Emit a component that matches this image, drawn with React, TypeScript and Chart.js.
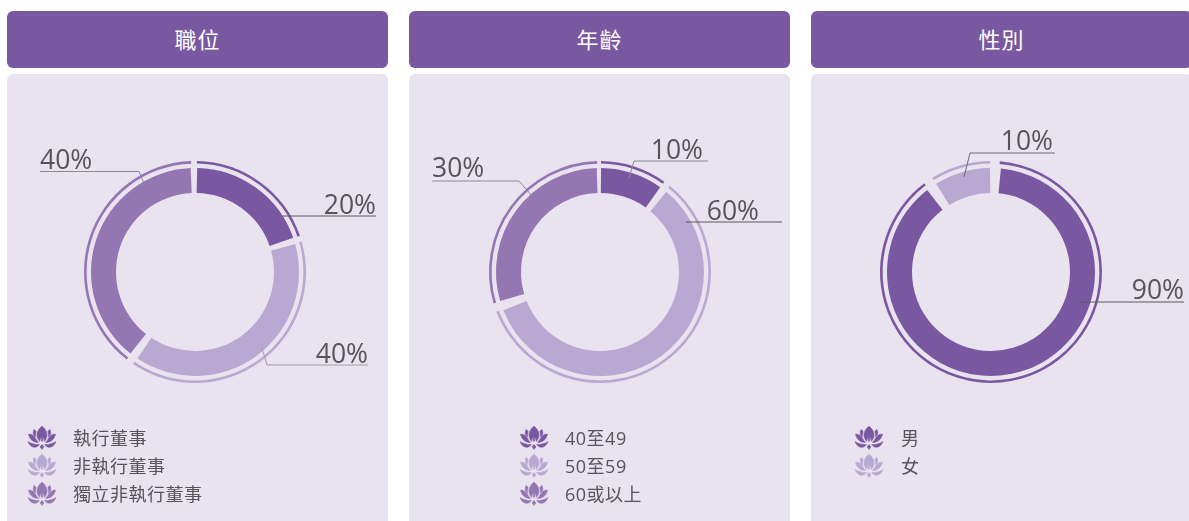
import React, { useEffect, useRef } from "react";
import { Chart, registerables } from "chart.js";

Chart.register(...registerables);

const DARK = "#7a58a1";
const MEDIUM = "#9476b3";
const LIGHT = "#b9a8d1";
const PANEL = "#e9e3f0";
const TEXT = "#555557";

const roleTitle = "職位";
const roleLabels = ["執行董事", "非執行董事", "獨立非執行董事"];
const roleValues = [20, 40, 40];
const rolePrinted = ["20%", "40%", "40%"];
const roleColors = [DARK, LIGHT, MEDIUM];

const ageTitle = "年齡";
const ageLabels = ["40至49", "50至59", "60或以上"];
const ageValues = [10, 60, 30];
const agePrinted = ["10%", "60%", "30%"];
const ageColors = [DARK, LIGHT, MEDIUM];

const genderTitle = "性別";
const genderLabels = ["男", "女"];
// The drawn slice is slightly narrower than its printed label
const genderValues = [91, 9];
const genderPrinted = ["90%", "10%"];
const genderColors = [DARK, LIGHT];

type Leader = { tip: number[]; elbow?: number[]; end: number[]; color: string; align: "left" | "right"; textX: number; textDy: number };

// Leader geometry relative to the doughnut centre
const roleLeaders: Leader[] = [
  { tip: [88, -56], end: [181, -56], color: "#58585a", align: "right", textX: 181, textDy: -2 },
  { tip: [67, 76], elbow: [72, 93], end: [173, 93], color: "#a49bab", align: "right", textX: 173, textDy: -2.5 },
  { tip: [-49, -84], elbow: [-56, -100.5], end: [-155, -100.5], color: "#8f8696", align: "left", textX: -155, textDy: -2.5 },
];
const ageLeaders: Leader[] = [
  { tip: [29, -94], elbow: [34, -111], end: [108, -111], color: "#8f8696", align: "right", textX: 103, textDy: -2 },
  { tip: [86, -50], end: [182, -50], color: "#58585a", align: "right", textX: 159, textDy: -2 },
  { tip: [-67, -75], elbow: [-81, -91], end: [-168, -91], color: "#8f8696", align: "left", textX: -168, textDy: -4 },
];
const genderLeaders: Leader[] = [
  { tip: [89, 30], end: [193, 30], color: "#58585a", align: "right", textX: 193, textDy: -3 },
  { tip: [-27, -95], elbow: [-21, -119], end: [64, -119], color: "#6f6777", align: "right", textX: 62, textDy: -3 },
];

const leaderPlugin = {
  id: "leaders",
  afterDatasetsDraw(chart: any, _a: any, opts: any) {
    const arc = chart.getDatasetMeta(2).data[0];
    const { x: cx, y: cy } = arc;
    const ctx = chart.ctx;
    (opts.items as Leader[]).forEach((l, i) => {
      ctx.save();
      ctx.strokeStyle = l.color;
      ctx.lineWidth = 1;
      ctx.beginPath();
      ctx.moveTo(cx + l.tip[0], cy + l.tip[1]);
      if (l.elbow) ctx.lineTo(cx + l.elbow[0], cy + l.elbow[1]);
      ctx.lineTo(cx + l.end[0], cy + l.end[1]);
      ctx.stroke();
      ctx.fillStyle = TEXT;
      ctx.font = '500 26.5px "Open Sans", sans-serif';
      ctx.textAlign = l.align;
      ctx.textBaseline = "alphabetic";
      ctx.fillText(opts.printed[i], cx + l.textX, cy + l.end[1] + l.textDy);
      ctx.restore();
    });
  },
};

function Lotus({ color, x, y }: { color: string; x: number; y: number }) {
  return (
    <svg width="30" height="24" viewBox="0 0 30 24" style={{ position: "absolute", left: x, top: y }}>
      <g fill={color} stroke={color} strokeWidth="0.5">
        <path d="M15 0 C18.5 3 20.5 6.5 20 10 C19.6 12.5 18.4 14 17.5 15.5 L16.6 11 L15.6 15.5 L15 10 L14.4 15.5 L13.4 11 L12.5 15.5 C11.6 14 10.4 12.5 10 10 C9.5 6.5 11.5 3 15 0 Z" />
        <path d="M7 3.5 C8.5 4.2 9 5 9.2 6 C8.6 7 8.2 9 8.6 11 C7.2 10 6.2 8.5 6.2 6.5 C6.2 5.4 6.5 4.4 7 3.5 Z" />
        <path d="M23 3.5 C21.5 4.2 21 5 20.8 6 C21.4 7 21.8 9 21.4 11 C22.8 10 23.8 8.5 23.8 6.5 C23.8 5.4 23.5 4.4 23 3.5 Z" />
        <path d="M1.5 8 C4 8 6.5 9 8 11.5 C9 13.5 10.2 15 11.5 16.5 C7 16.5 2.5 14 1.5 8 Z" />
        <path d="M28.5 8 C26 8 23.5 9 22 11.5 C21 13.5 19.8 15 18.5 16.5 C23 16.5 27.5 14 28.5 8 Z" />
        <path d="M1 15.5 C5 18 9 18.8 12.5 18.5 C11 20.5 9 21.5 7 21.3 C4.5 21 2.2 18.8 1 15.5 Z" />
        <path d="M29 15.5 C25 18 21 18.8 17.5 18.5 C19 20.5 21 21.5 23 21.3 C25.5 21 27.8 18.8 29 15.5 Z" />
        <path d="M15 18.5 L17 20.8 L15 23.5 L13 20.8 Z" />
      </g>
    </svg>
  );
}

function Panel(props: {
  left: number; title: string; labels: string[]; values: number[]; printed: string[]; colors: string[];
  leaders: Leader[]; paddingLeft: number; paddingRight: number; iconX: number; textX: number;
}) {
  const ref = useRef<HTMLCanvasElement>(null);
  const { left, title, labels, values, printed, colors, leaders, paddingLeft, paddingRight, iconX, textX } = props;
  useEffect(() => {
    const chart = new Chart(ref.current!, {
      type: "doughnut",
      data: {
        labels,
        datasets: [
          { data: values, backgroundColor: colors, weight: 2.6, borderWidth: 0, spacing: 6 },
          { data: values, backgroundColor: "transparent", weight: 4.4, borderWidth: 0, spacing: 6 },
          { data: values, backgroundColor: colors, weight: 25, borderWidth: 0, spacing: 6 },
        ],
      } as any,
      options: {
        animation: false,
        responsive: false,
        radius: 108,
        cutout: "70.37%",
        layout: { padding: { left: paddingLeft, right: paddingRight, top: 0, bottom: 51 } },
        plugins: { legend: { display: false }, tooltip: { enabled: false }, leaders: { items: leaders, printed } },
      } as any,
      plugins: [leaderPlugin],
    });
    return () => chart.destroy();
  }, []);
  return (
    <>
      <div style={{
        position: "absolute", left, top: 11, width: 381, height: 57, background: DARK, borderRadius: 6,
        color: "#fff", font: '22px "Noto Sans CJK TC", sans-serif', textAlign: "center", lineHeight: "54px", letterSpacing: 1,
      }}>{title}</div>
      <div style={{ position: "absolute", left, top: 74, width: 381, height: 460, background: PANEL, borderRadius: 6 }} />
      <canvas ref={ref} width={381} height={447} style={{ position: "absolute", left, top: 74, display: "block" }} />
      {labels.map((label, i) => (
        <React.Fragment key={label}>
          <Lotus color={colors[i]} x={iconX} y={426 + i * 28} />
          <div style={{
            position: "absolute", left: textX, top: 424 + i * 28, height: 28, lineHeight: "28px", whiteSpace: "nowrap",
            font: '18px "Open Sans", "Noto Sans CJK TC", sans-serif', color: TEXT, letterSpacing: 0.5,
          }}>{label}</div>
        </React.Fragment>
      ))}
    </>
  );
}

export default function App() {
  return (
    <div style={{ position: "fixed", left: 0, top: 0, width: 1189, height: 521, overflow: "hidden", background: "#fff" }}>
      <Panel left={7} title={roleTitle} labels={roleLabels} values={roleValues} printed={rolePrinted} colors={roleColors}
        leaders={roleLeaders} paddingLeft={0} paddingRight={5} iconX={27} textX={73} />
      <Panel left={409} title={ageTitle} labels={ageLabels} values={ageValues} printed={agePrinted} colors={ageColors}
        leaders={ageLeaders} paddingLeft={1} paddingRight={0} iconX={519} textX={565} />
      <Panel left={811} title={genderTitle} labels={genderLabels} values={genderValues} printed={genderPrinted} colors={genderColors}
        leaders={genderLeaders} paddingLeft={0} paddingRight={21} iconX={854} textX={901} />
    </div>
  );
}
